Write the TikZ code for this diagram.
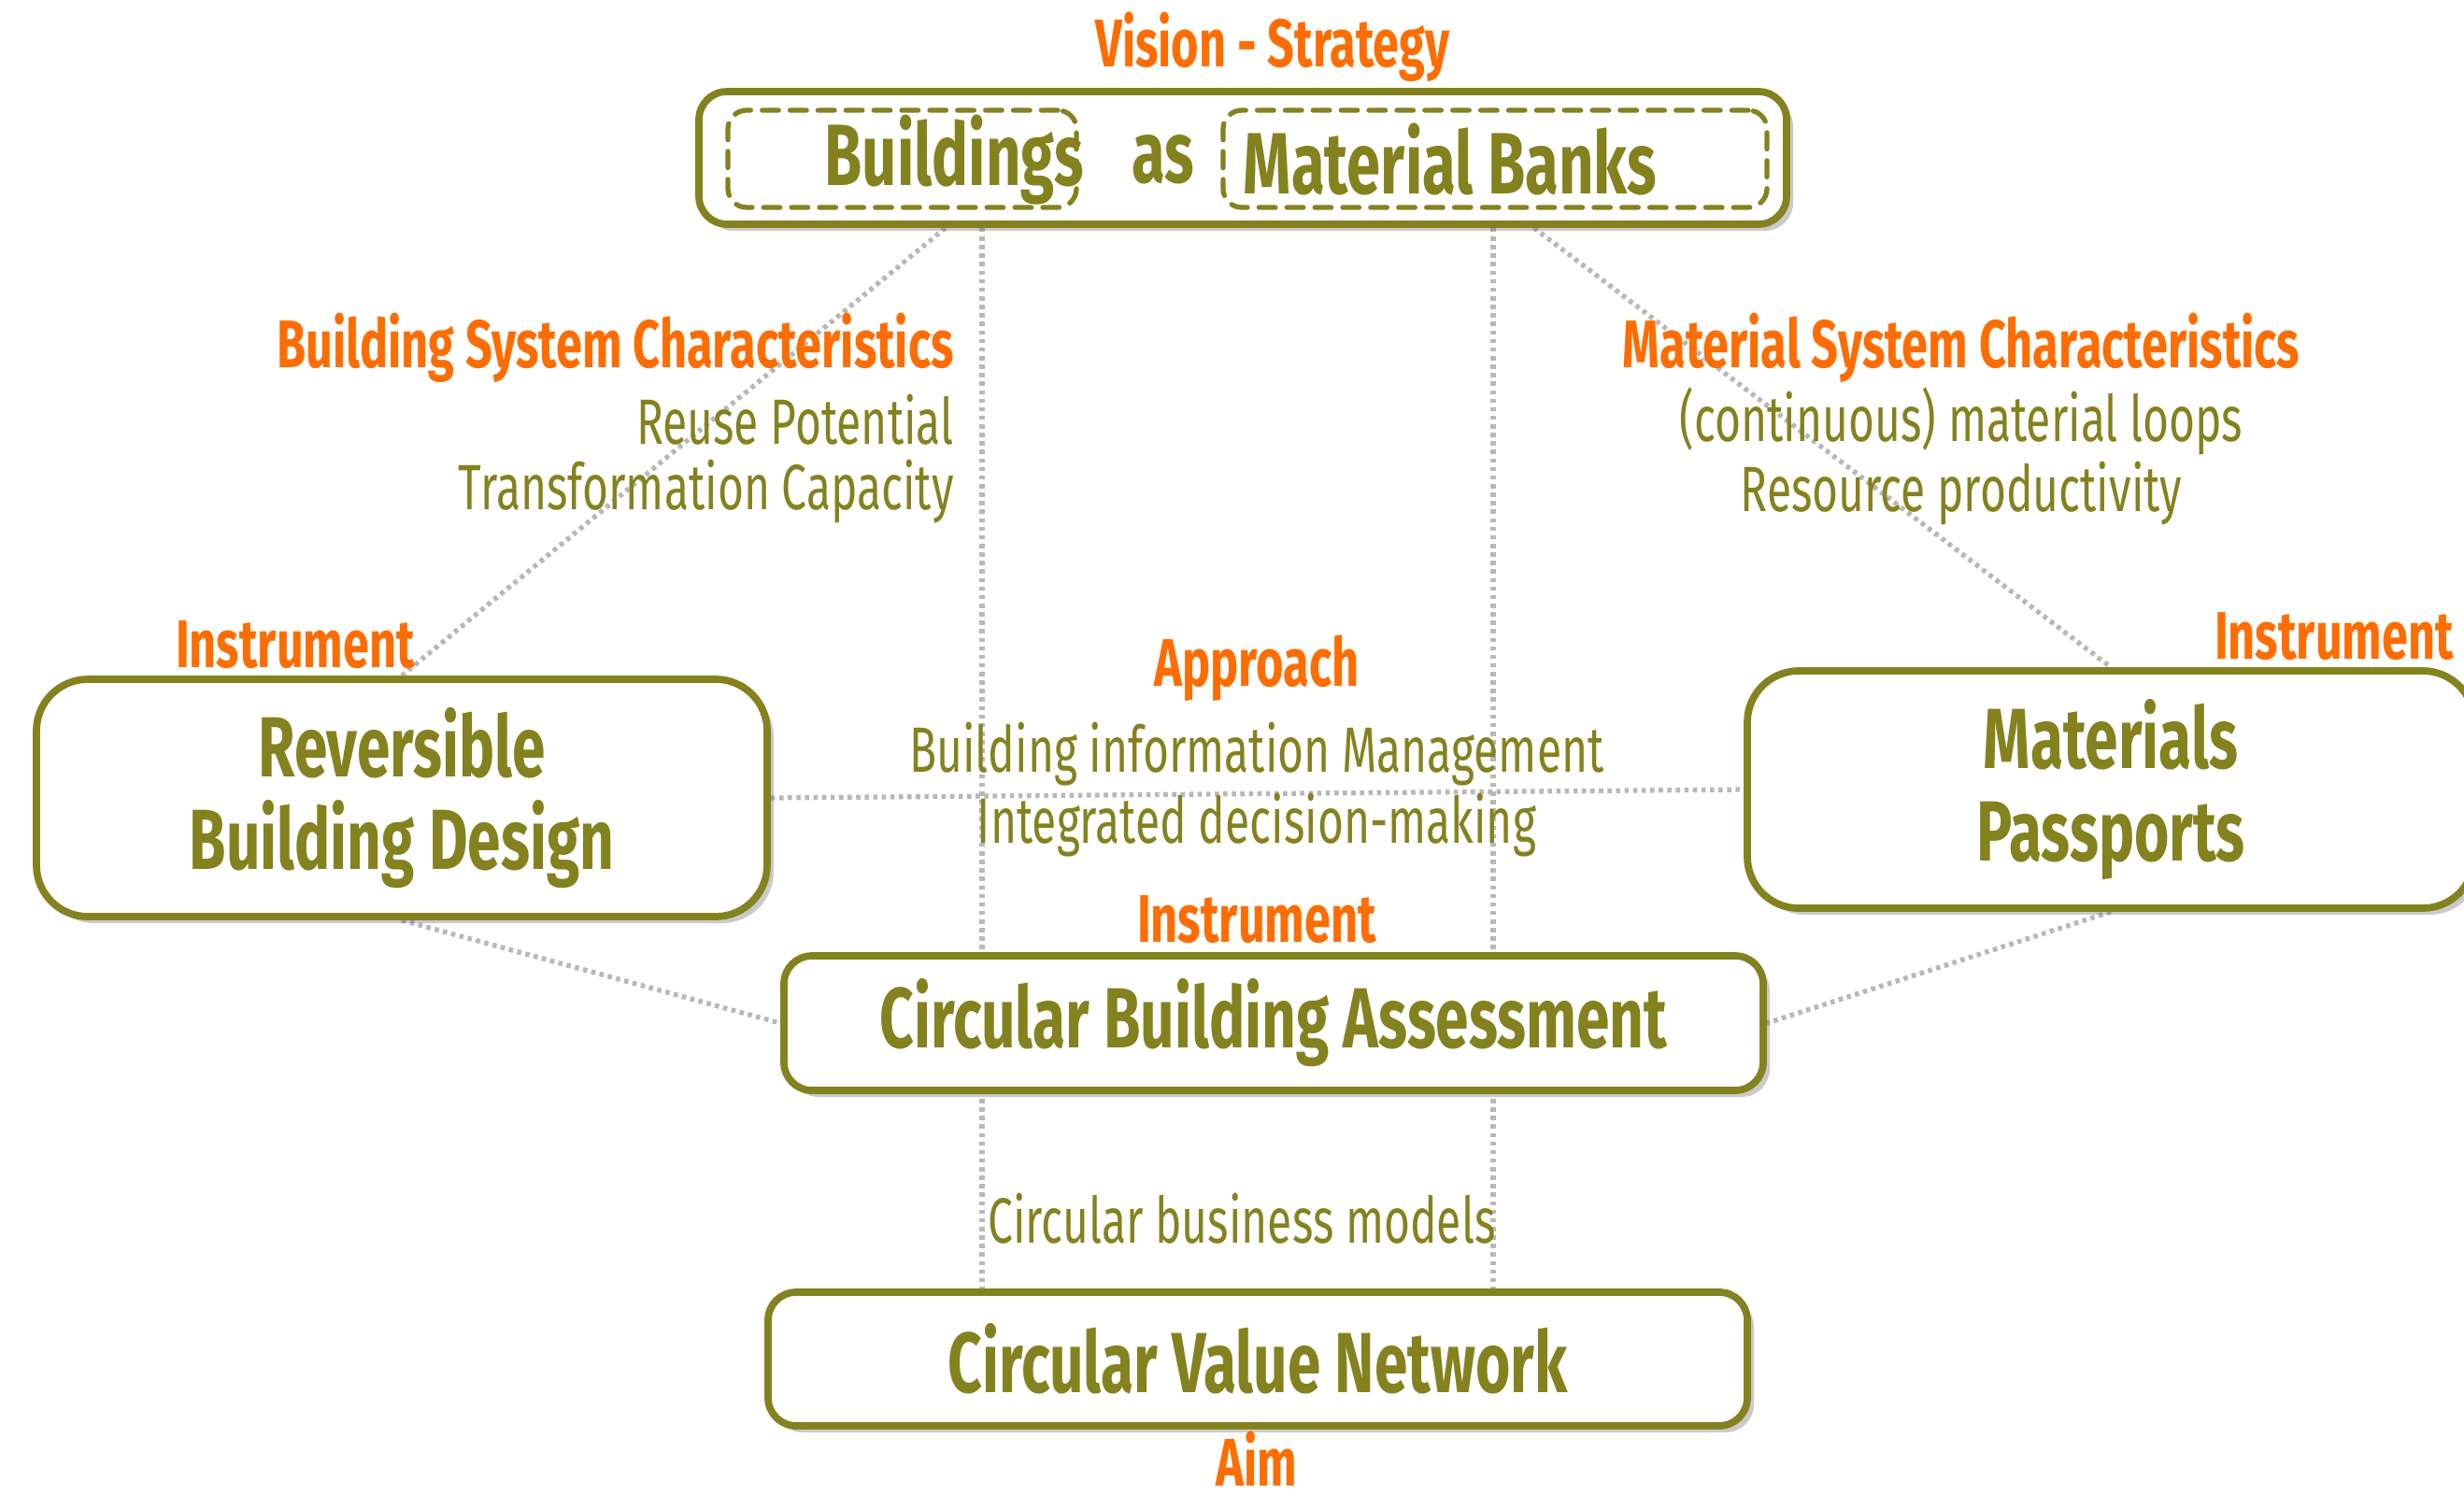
\documentclass[tikz,border=0pt]{standalone}
\usepackage{fontspec}
\setmainfont{Fira Sans}[FakeStretch=0.7]
\usetikzlibrary{shadows,backgrounds,calc}
\definecolor{olive}{RGB}{132,130,30}
\definecolor{orng}{RGB}{255,108,0}
\begin{document}
\begin{tikzpicture}[
  box/.style={draw=olive, line width=2.2pt, fill=white, rounded corners=0.3cm, text=olive, font=\bfseries\fontsize{26}{30}\selectfont, align=center, drop shadow={shadow xshift=0.7mm, shadow yshift=-0.7mm, opacity=0.35, fill=black!60}},
  bigbox/.style={box, rounded corners=0.55cm},
  dbox/.style={draw=olive, line width=1.5pt, dash pattern=on 5pt off 3.5pt, line cap=round, rounded corners=0.2cm},
  lbl/.style={text=orng, font=\fontsize{20.5}{24}\selectfont\bfseries},
  txt/.style={text=olive, font=\fontsize{19.5}{24}\selectfont},
  dots/.style={draw=black!28, line width=1.5pt, dash pattern=on 1.3pt off 1.3pt}]
\useasboundingbox (0,0) rectangle (26.37,-15.98);
% boxes
\node[box, minimum width=11.64cm, minimum height=1.42cm] (top) at (13.30,-1.69) {};
\node[dbox, minimum width=3.73cm, minimum height=1.04cm] (bld) at (9.655,-1.70) {};
\node[dbox, minimum width=5.82cm, minimum height=1.04cm] (bank) at (16.00,-1.70) {};
\node[text=olive, font=\bfseries\fontsize{26.5}{30}\selectfont] (tbld) at (10.21,-1.71) {Buildings};
\node[text=olive, font=\bfseries\fontsize{26.5}{30}\selectfont] (tas) at (12.45,-1.71) {as};
\node[text=olive, font=\bfseries\fontsize{26.5}{30}\selectfont] (tbank) at (15.52,-1.71) {Material Banks};
\node[bigbox, minimum width=7.82cm, minimum height=2.54cm] (rbd) at (4.30,-8.54) {Reversible\\[-2pt]Building Design};
\node[bigbox, minimum width=7.78cm, minimum height=2.54cm] (mp) at (22.59,-8.45) {Materials\\[-2pt]Passports};
\node[box, minimum width=10.48cm, minimum height=1.44cm] (cba) at (13.63,-10.95) {Circular Building Assessment};
\node[box, minimum width=10.48cm, minimum height=1.43cm] (cvn) at (13.46,-14.545) {Circular Value Network};
% labels
\node[lbl] (vis) at (13.62,-0.50) {Vision - Strategy};
\node[lbl, anchor=east] (bsc) at (10.33,-3.72) {Building System Characteristics};
\node[txt, anchor=east] (reuse) at (10.33,-4.49) {Reuse Potential};
\node[txt, anchor=east] (trans) at (10.33,-5.26) {Transformation Capacity};
\node[lbl] (ins1) at (3.16,-6.90) {Instrument};
\node[lbl] (msc) at (20.99,-3.72) {Material System Characteristics};
\node[txt] (loops) at (20.99,-4.51) {(continuous) material loops};
\node[txt] (prod) at (20.99,-5.28) {Resource productivity};
\node[lbl] (ins2) at (24.98,-6.81) {Instrument};
\node[lbl] (appr) at (13.45,-7.15) {Approach};
\node[txt] (bim) at (13.45,-8.07) {Building information Management};
\node[txt] (idm) at (13.45,-8.83) {Integrated decision-making};
\node[lbl] (ins3) at (13.45,-9.84) {Instrument};
\node[txt] (cbm) at (13.29,-13.04) {Circular business models};
\node[lbl, anchor=base, inner sep=0pt] (aim) at (13.45,-15.90) {Aim};
% dotted links
\begin{scope}[on background layer]
\coordinate (xl) at (10.51,0);
\coordinate (xr) at (15.98,0);
\draw[dots] (top.south -| xl) -- (cvn.north -| xl);
\draw[dots] (top.south -| xr) -- (cvn.north -| xr);
\draw[dots] ($(top.south west)!0.2285!(top.south east)$) -- (rbd.north);
\draw[dots] ($(top.south west)!0.766!(top.south east)$) -- (mp.north);
\draw[dots] (rbd.east) -- (mp.west);
\draw[dots] (rbd.south) -- (cba.west);
\draw[dots] (mp.south) -- (cba.east);
\end{scope}
\end{tikzpicture}
\end{document}
